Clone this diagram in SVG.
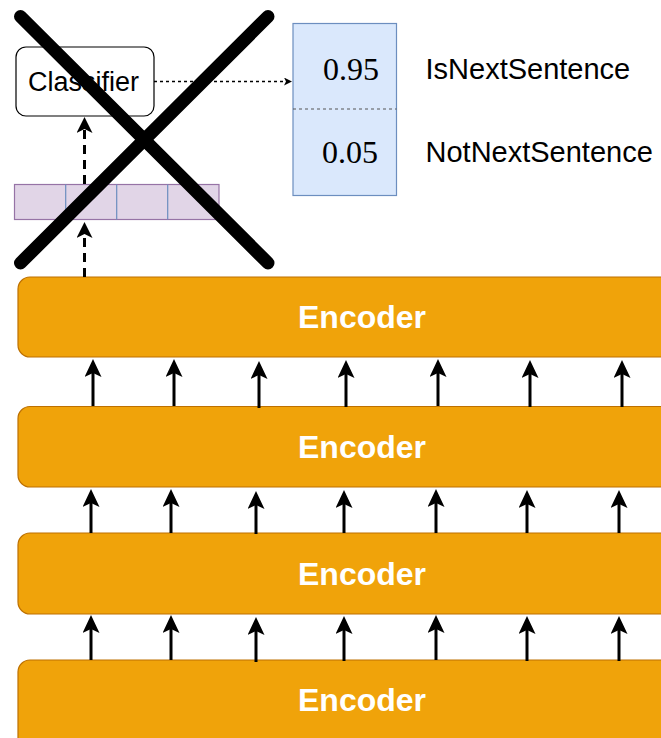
<svg xmlns="http://www.w3.org/2000/svg" width="661" height="738" viewBox="0 0 661 738">
<style>
.enc{fill:#f0a30a;stroke:#bd7000;stroke-width:1.2}
.enct{font-family:"Liberation Sans",Arial,sans-serif;font-weight:bold;font-size:32px;fill:#ffffff;text-anchor:middle}
.lbl{font-family:"Liberation Sans",Arial,sans-serif;font-size:29px;fill:#000}
.num{font-family:"Liberation Serif","DejaVu Serif",serif;font-size:32px;fill:#000;text-anchor:middle}
.up{stroke:#000;stroke-width:3;fill:none;marker-end:url(#ah)}
.dash{stroke:#000;stroke-width:3;fill:none;stroke-dasharray:9 6;marker-end:url(#ahd)}
</style>
<defs>
<marker id="ah" viewBox="0 0 18 17" markerWidth="18" markerHeight="17" refX="4" refY="8.5" orient="auto" markerUnits="userSpaceOnUse"><path d="M0,0 L18,8.5 L0,17 L4,8.5 Z" fill="#000"/></marker>
<marker id="ahd" viewBox="0 0 16 16" markerWidth="16" markerHeight="16" refX="4" refY="8" orient="auto" markerUnits="userSpaceOnUse"><path d="M0,0 L16,8 L0,16 L4,8 Z" fill="#000"/></marker>
<marker id="ahs" viewBox="0 0 8 8" markerWidth="8" markerHeight="8" refX="2" refY="4" orient="auto" markerUnits="userSpaceOnUse"><path d="M0,0 L8,4 L0,8 L2,4 Z" fill="#000"/></marker>
</defs>
<g id="encoder1"><rect class="enc" x="18" y="277" width="700" height="80" rx="12"/><text class="enct" x="362" y="328">Encoder</text></g>
<g id="encoder2"><rect class="enc" x="18" y="406.5" width="700" height="80.5" rx="12"/><text class="enct" x="362" y="458">Encoder</text></g>
<g id="encoder3"><rect class="enc" x="18" y="533" width="700" height="81" rx="12"/><text class="enct" x="362" y="585">Encoder</text></g>
<g id="encoder4"><rect class="enc" x="18" y="660" width="700" height="100" rx="12"/><text class="enct" x="362" y="711">Encoder</text></g>
<g id="classifier"><rect x="16" y="47" width="138" height="69" rx="10" fill="#fff" stroke="#000" stroke-width="1.2"/><text class="lbl" x="28" y="90.5" style="font-size:27px">Classifier</text></g>
<g id="embedding"><rect x="14.5" y="184.5" width="204.5" height="35" fill="#e1d5e7" stroke="#9673a6" stroke-width="1.2"/><path d="M65.7,184.5V219.5M116.7,184.5V219.5M167.7,184.5V219.5" stroke="#6c8ebf" stroke-width="1.2"/></g>
<g id="output"><rect x="293" y="23.5" width="103.5" height="172" fill="#dae8fc" stroke="#6c8ebf" stroke-width="1.2"/><line x1="293" y1="109" x2="396.5" y2="109" stroke="#555" stroke-width="1.2" stroke-dasharray="3 3"/><text class="num" x="351" y="80">0.95</text><text class="num" x="350" y="162.5">0.05</text></g>
<g id="labels"><text class="lbl" x="425.5" y="79">IsNextSentence</text><text class="lbl" x="425.5" y="162">NotNextSentence</text></g>
<g id="connectors">
<line class="up" x1="93" y1="406" x2="93" y2="373"/><line class="up" x1="174" y1="406" x2="174" y2="373"/><line class="up" x1="259" y1="408" x2="259" y2="375"/><line class="up" x1="346" y1="407" x2="346" y2="374"/><line class="up" x1="438" y1="406" x2="438" y2="373"/><line class="up" x1="530" y1="407" x2="530" y2="374"/><line class="up" x1="622" y1="407" x2="622" y2="374"/>
<line class="up" x1="91" y1="533" x2="91" y2="503"/><line class="up" x1="171" y1="533" x2="171" y2="503"/><line class="up" x1="256" y1="534" x2="256" y2="505"/><line class="up" x1="344" y1="533" x2="344" y2="504"/><line class="up" x1="436" y1="533" x2="436" y2="503"/><line class="up" x1="527" y1="533" x2="527" y2="504"/><line class="up" x1="619" y1="533" x2="619" y2="504"/>
<line class="up" x1="91" y1="660" x2="91" y2="629"/><line class="up" x1="171" y1="660" x2="171" y2="629"/><line class="up" x1="256" y1="662" x2="256" y2="631"/><line class="up" x1="344" y1="661" x2="344" y2="630"/><line class="up" x1="436" y1="660" x2="436" y2="629"/><line class="up" x1="527" y1="661" x2="527" y2="630"/><line class="up" x1="619" y1="661" x2="619" y2="630"/>
<line class="dash" x1="84.5" y1="277" x2="84.5" y2="234"/>
<line class="dash" x1="84.5" y1="184" x2="84.5" y2="129"/>
<line x1="154" y1="81.5" x2="286" y2="81.5" stroke="#000" stroke-width="1.3" stroke-dasharray="3 3" marker-end="url(#ahs)"/>
</g>
<g id="cross" stroke="#000" stroke-width="13" stroke-linecap="round"><line x1="20.5" y1="16.5" x2="268" y2="263"/><line x1="268" y1="16.5" x2="20.5" y2="263"/></g>
</svg>
